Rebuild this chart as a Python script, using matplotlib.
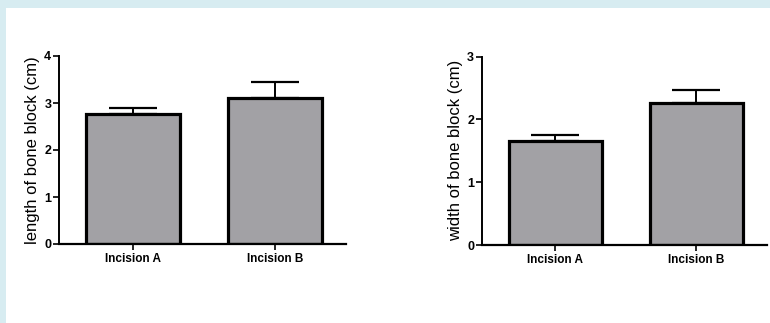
import numpy as np
import matplotlib.pyplot as plt
from matplotlib.patches import Rectangle

plt.rcParams['font.family'] = ['Liberation Sans', 'DejaVu Sans']

groups = ['Incision A', 'Incision B']
length_mean = [2.77, 3.11]
length_err = [0.13, 0.33]
width_mean = [1.66, 2.26]
width_err = [0.10, 0.21]

W, H = 770, 323
fig = plt.figure(figsize=(W / 100, H / 100), dpi=100)
fig.patch.set_facecolor('#d7ecf1')
fig.patches.append(Rectangle((6 / W, 0), 1, 1 - 8 / H, transform=fig.transFigure,
                             facecolor='white', edgecolor='none', zorder=-5))


def panel(rect, means, errs, ymax, ylabel):
    ax = fig.add_axes(rect)
    ax.set_facecolor('none')
    x = np.arange(len(groups))
    ax.errorbar(x, means, yerr=[np.zeros(len(errs)), errs], fmt='none',
                ecolor='black', elinewidth=1.4, capsize=17, capthick=1.6, zorder=1)
    ax.bar(x, means, width=0.66, color='#a2a1a5', edgecolor='black',
           linewidth=2.3, zorder=2)
    ax.set_xlim(-0.52, 1.5)
    ax.set_ylim(0, ymax)
    ax.set_yticks(range(ymax + 1))
    ax.set_xticks(x)
    ax.set_xticklabels(groups, fontsize=8.5, fontweight='bold')
    for lab in ax.get_yticklabels():
        lab.set_fontsize(9)
        lab.set_fontweight('bold')
    ax.spines['top'].set_visible(False)
    ax.spines['right'].set_visible(False)
    ax.spines['left'].set_linewidth(1.4)
    ax.spines['bottom'].set_linewidth(1.6)
    ax.tick_params(axis='both', direction='out', length=4, width=1.2, pad=1.5)
    ax.tick_params(axis='x', pad=2.5)
    ax.set_ylabel(ylabel, fontsize=12, labelpad=3)
    return ax


panel([59 / W, 1 - 244 / H, 287 / W, 188 / H], length_mean, length_err, 4,
      'length of bone block (cm)')
panel([481.7 / W, 1 - 245 / H, 285 / W, 188.3 / H], width_mean, width_err, 3,
      'width of bone block (cm)')

fig.savefig('out.png', dpi=100, facecolor=fig.get_facecolor())
